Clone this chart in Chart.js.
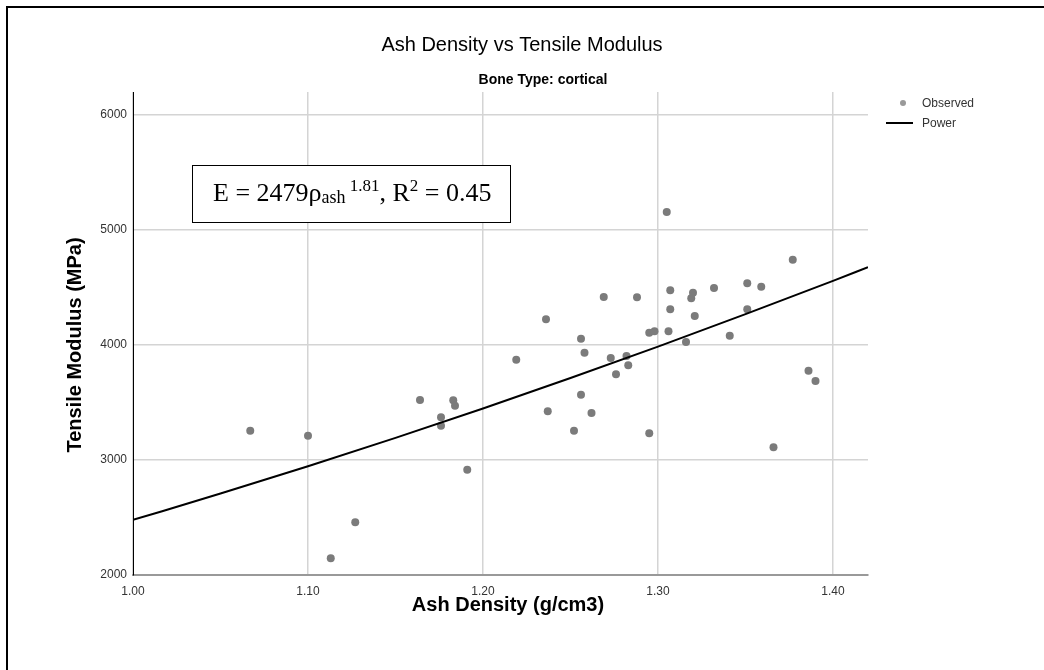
<!DOCTYPE html>
<html>
<head>
<meta charset="utf-8">
<script src="https://cdn.jsdelivr.net/npm/chart.js@4.4.1/dist/chart.umd.min.js"></script>
<style>
  html, body { margin: 0; padding: 0; background: #fff; overflow: hidden; }
  #wrap { position: relative; width: 1044px; height: 670px; }
  #frame { position: absolute; left: 6px; top: 6px; width: 1100px; height: 700px;
           border-left: 2px solid #000; border-top: 2px solid #000; pointer-events: none; }
</style>
</head>
<body>
<div id="wrap">
  <canvas id="myChart" width="1044" height="670"></canvas>
  <div id="frame"></div>
</div>
<script>
// observed points (ash density g/cm3, tensile modulus MPa)
const densX = [1.067, 1.100, 1.113, 1.127, 1.164, 1.176, 1.176, 1.183, 1.184, 1.191,
               1.219, 1.236, 1.237, 1.252, 1.256, 1.256, 1.258, 1.262, 1.269, 1.273,
               1.276, 1.282, 1.283, 1.288, 1.295, 1.295, 1.298, 1.305, 1.306, 1.307,
               1.307, 1.316, 1.319, 1.320, 1.321, 1.332, 1.341, 1.351, 1.351, 1.359,
               1.366, 1.377, 1.386, 1.390];
const modulusY = [3255, 3211, 2145, 2458, 3522, 3371, 3298, 3519, 3472, 2916,
                  3872, 4223, 3423, 3255, 3568, 4055, 3933, 3409, 4417, 3887,
                  3745, 3904, 3823, 4415, 4107, 3232, 4119, 5157, 4119, 4310,
                  4476, 4026, 4406, 4455, 4252, 4496, 4081, 4536, 4310, 4507,
                  3110, 4742, 3777, 3687];

// power fit curve
const fitX = [1.00, 1.05, 1.10, 1.15, 1.20, 1.25, 1.30, 1.35, 1.40, 1.42];
const fitY = [2479, 2708, 2946, 3192, 3448, 3713, 3986, 4268, 4558, 4677];

const xTicks = [1.0, 1.1, 1.2, 1.3, 1.4];
const yTicks = [2000, 3000, 4000, 5000, 6000];

const chartTitle = 'Ash Density vs Tensile Modulus';
const chartSubtitle = 'Bone Type: cortical';
const xTitle = 'Ash Density (g/cm3)';
const yTitle = 'Tensile Modulus (MPa)';
const legendNames = ['Observed', 'Power'];

const obsData = densX.map((x, i) => ({ x: x, y: modulusY[i] }));
const fitData = fitX.map((x, i) => ({ x: x, y: fitY[i] }));

const SANS = '"Liberation Sans", Arial, sans-serif';
const SERIF = '"Liberation Serif", "Times New Roman", serif';

// titles, axis titles, legend and the equation box
const extras = {
    id: 'extras',
    afterDraw(chart) {
        const ctx = chart.ctx;
        ctx.save();
        ctx.fillStyle = '#000';
        ctx.textAlign = 'center';
        ctx.textBaseline = 'middle';

        // chart title + subtitle
        ctx.font = '20px ' + SANS;
        ctx.fillText(chartTitle, 522, 45);
        ctx.font = 'bold 14px ' + SANS;
        ctx.fillText(chartSubtitle, 543, 80);

        // y title
        ctx.font = 'bold 20px ' + SANS;
        ctx.translate(75, 345);
        ctx.rotate(-Math.PI / 2);
        ctx.fillText(yTitle, 0, 0);
        ctx.setTransform(1, 0, 0, 1, 0, 0);

        // x title
        ctx.font = 'bold 20px ' + SANS;
        ctx.fillText(xTitle, 508, 605);

        // legend
        ctx.textAlign = 'left';
        ctx.font = '12px ' + SANS;
        ctx.fillStyle = '#999';
        ctx.beginPath();
        ctx.arc(903, 103, 3, 0, Math.PI * 2);
        ctx.fill();
        ctx.strokeStyle = '#000';
        ctx.lineWidth = 2;
        ctx.beginPath();
        ctx.moveTo(886, 123);
        ctx.lineTo(913, 123);
        ctx.stroke();
        ctx.fillStyle = '#333';
        ctx.fillText(legendNames[0], 922, 104);
        ctx.fillText(legendNames[1], 922, 124);

        // equation box
        ctx.fillStyle = '#fff';
        ctx.fillRect(192, 165, 318, 57);
        ctx.strokeStyle = '#000';
        ctx.lineWidth = 1;
        ctx.strokeRect(192.5, 165.5, 318, 57);

        const parts = [
            { t: 'E = 2479\u03c1', size: 26, dy: 0 },
            { t: 'ash', size: 18, dy: 2 },
            { t: ' 1.81', size: 17, dy: -10 },
            { t: ', R', size: 26, dy: 0 },
            { t: '2', size: 17, dy: -10 },
            { t: ' = 0.45', size: 26, dy: 0 }
        ];
        ctx.fillStyle = '#000';
        ctx.textBaseline = 'alphabetic';
        let px = 213;
        parts.forEach(p => {
            ctx.font = p.size + 'px ' + SERIF;
            ctx.fillText(p.t, px, 201 + p.dy);
            px += ctx.measureText(p.t).width;
        });
        ctx.restore();
    }
};

const ctx = document.getElementById('myChart').getContext('2d');
const myChart = new Chart(ctx, {
    type: 'scatter',
    data: {
        datasets: [
            {
                label: legendNames[0],
                data: obsData,
                pointRadius: 4,
                pointHoverRadius: 4,
                pointBackgroundColor: '#7b7b7b',
                pointBorderWidth: 0,
                order: 2
            },
            {
                type: 'line',
                label: legendNames[1],
                data: fitData,
                borderColor: '#000',
                borderWidth: 2,
                pointRadius: 0,
                fill: false,
                cubicInterpolationMode: 'monotone',
                order: 1
            }
        ]
    },
    options: {
        responsive: false,
        animation: false,
        layout: { padding: { left: 0, right: 176, top: 92, bottom: 0 } },
        plugins: {
            legend: { display: false },
            tooltip: { enabled: false },
            title: { display: false },
            subtitle: { display: false }
        },
        scales: {
            x: {
                type: 'linear',
                min: 1.0,
                max: 1.42,
                afterBuildTicks: s => { s.ticks = xTicks.map(v => ({ value: v })); },
                afterFit: s => { s.height = 95; },
                ticks: {
                    color: '#333',
                    font: { family: SANS, size: 12 },
                    padding: 9,
                    maxRotation: 0,
                    callback: v => v.toFixed(2)
                },
                grid: { color: '#d4d4d4', lineWidth: 1.5, drawTicks: false },
                border: { color: '#999', width: 2 }
            },
            y: {
                min: 2000,
                max: 6200,
                afterBuildTicks: s => { s.ticks = yTicks.map(v => ({ value: v })); },
                afterFit: s => { s.width = 133; },
                ticks: {
                    color: '#333',
                    font: { family: SANS, size: 12 },
                    padding: 6,
                    callback: v => String(v)
                },
                grid: { color: '#d4d4d4', lineWidth: 1.5, drawTicks: false },
                border: { color: '#000', width: 1 }
            }
        }
    },
    plugins: [extras]
});
</script>
</body>
</html>
